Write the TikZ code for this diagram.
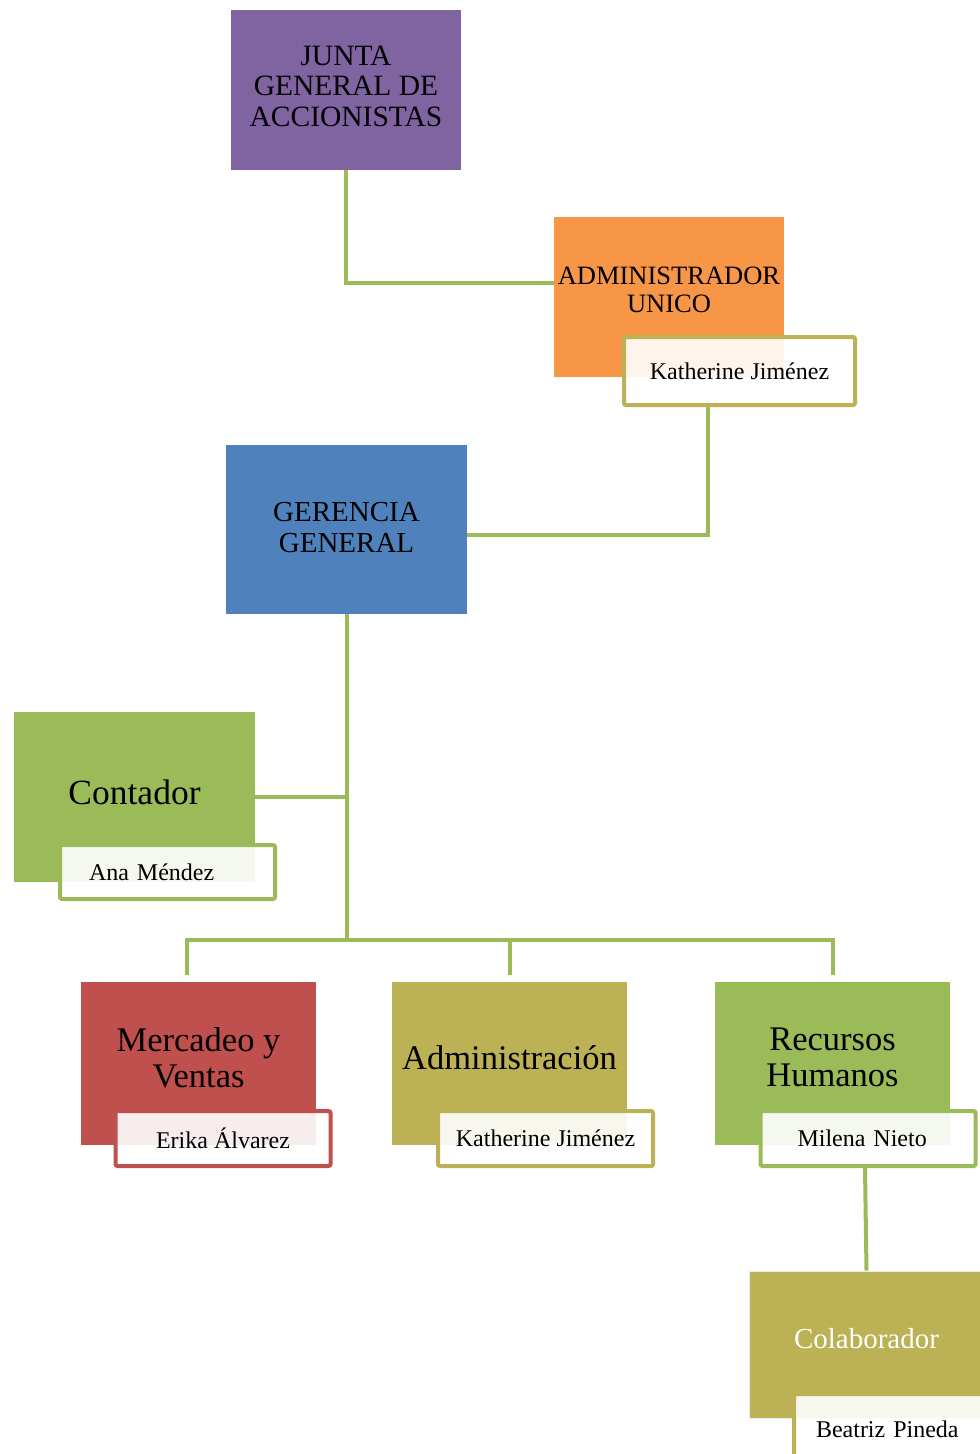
\documentclass[tikz,border=0pt]{standalone}
\usepackage{fontspec}
\setmainfont{Liberation Serif}
\usepackage{xcolor}
\usepackage{tikz}
\usetikzlibrary{calc}

\definecolor{juntaPurple}{HTML}{8064A2}
\definecolor{adminOrange}{HTML}{F79646}
\definecolor{gerBlue}{HTML}{4F81BD}
\definecolor{leafGreen}{HTML}{9BBB59}
\definecolor{mercRed}{HTML}{C0504D}
\definecolor{oliveGold}{HTML}{BCB155}

\begin{document}
\begin{tikzpicture}[x=1pt,y=-1pt,
    box/.style={rectangle,inner sep=0pt,align=center,text=black},
    bigbox/.style={box,minimum width=235pt,minimum height=163pt,font=\fontsize{34.5}{36}\selectfont,text depth=12pt},
    namebox/.style={rectangle,rounded corners=2pt,line width=4pt,fill=white,fill opacity=0.9,text opacity=1,
        inner sep=0pt,minimum width=215pt,minimum height=55pt,font=\fontsize{24}{26}\selectfont},
    link/.style={draw=leafGreen,line width=4pt}]
\useasboundingbox (0,0) rectangle (980,1454);

% Top of the chart
\node[box,fill=juntaPurple,minimum width=230pt,minimum height=160pt,
    font=\fontsize{29.5}{30.5}\selectfont,text depth=8pt] (junta) at (346,90) {JUNTA\\GENERAL DE\\ACCIONISTAS};
\node[box,fill=adminOrange,minimum width=230pt,minimum height=160pt,
    font=\fontsize{26.5}{28}\selectfont,text depth=14pt] (admin) at (669,297) {ADMINISTRADOR\\UNICO};
\node[namebox,draw=oliveGold,minimum width=231pt,minimum height=68pt] (kath) at (739.5,371) {Katherine Jiménez};

\node[box,fill=gerBlue,minimum width=241pt,minimum height=169pt,
    font=\fontsize{29}{31}\selectfont,text depth=4pt] (ger) at (346.5,529.5) {GERENCIA\\GENERAL};

% Staff position
\node[bigbox,fill=leafGreen,minimum width=241pt,minimum height=170pt,text depth=10pt,
    font=\fontsize{35.5}{37}\selectfont] (cont) at (134.5,797) {Contador};
\node[namebox,draw=leafGreen,minimum height=54pt,text width=157pt,align=left,inner xsep=29pt] (ana) at (167.5,872) {Ana Méndez};

% Departments
\node[bigbox,fill=mercRed] (merc) at (198.5,1063.5) {Mercadeo y\\Ventas};
\node[namebox,draw=mercRed] (erika) at (223,1138.5) {Erika Álvarez};

\node[bigbox,fill=oliveGold] (adm) at (509.5,1063.5) {Administración};
\node[namebox,draw=oliveGold] (kath2) at (545.5,1138.5) {Katherine Jiménez};

\node[bigbox,fill=leafGreen] (rrhh) at (832.5,1063.5) {Recursos\\Humanos};
\node[namebox,draw=leafGreen,text width=141pt,align=left,inner xsep=37pt] (milena) at (868,1138.5) {Milena Nieto};

\node[bigbox,fill=oliveGold,minimum height=147pt,draw=black!8,line width=1pt,text=white,
    font=\fontsize{29}{31}\selectfont,text depth=13pt] (colab) at (866.5,1344.5) {Colaborador};
\node[namebox,draw=oliveGold,anchor=north west,minimum height=70pt,text width=171pt,align=left,
    inner xsep=22pt] (beatriz) at (792,1392) {Beatriz Pineda};

% Connectors
\path (ger.south) ++(0,326) coordinate (bus);
\draw[link] (junta.south) |- ([yshift=14pt]admin.west);
\draw[link] ([xshift=-32pt]kath.south) |- ([yshift=-5pt]ger.east);
\draw[link] (ger.south) -- (bus);
\draw[link] (cont.east) -- (cont.east -| bus);
\draw[link] ([xshift=-12pt,yshift=7pt]merc.north) |- (bus) -| ([yshift=7pt]rrhh.north);
\draw[link] ([yshift=7pt]adm.north) -- (adm.north |- bus);
\draw[link] ([xshift=-3pt]milena.south) -- (colab.north);
\end{tikzpicture}
\end{document}
